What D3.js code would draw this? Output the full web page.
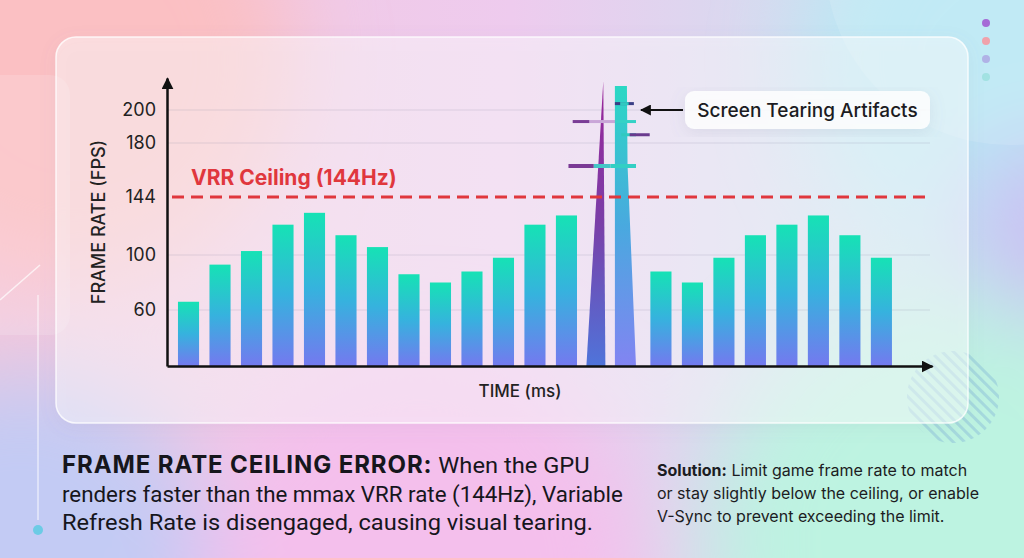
<!DOCTYPE html>
<html>
<head>
<meta charset="utf-8">
<script src="https://cdn.jsdelivr.net/npm/d3@7"></script>
<style>
  body { margin: 0; overflow: hidden; }
  svg { display: block; font-family: Inter, "Noto Sans", sans-serif; }
</style>
</head>
<body>
<div id="chart"></div>
<script>
// time samples along the x axis
var frames = ["t01", "t02", "t03", "t04", "t05", "t06", "t07", "t08", "t09", "t10", "t11", "t12",
              "t13", "t14", "t15", "t16", "t17", "t18", "t19", "t20", "t21", "t22", "t23"];

// frame rate per sample (FPS)
var fps = [66, 93, 103, 123, 132, 115, 106, 86, 80, 88, 98, 123,
           130, 218, 215, 88, 80, 98, 115, 123, 130, 115, 98];

// samples that overshoot the ceiling and tear
var tearFrames = ["t14", "t15"];

// levels where the torn slices sit (FPS)
var tearLevels = [204, 193, 185, 165];

var yTicks  = [60, 100, 144, 180, 200];
var yStops  = [20, 60, 100, 144, 180, 200, 220];   // the axis is not linear
var ceiling = 144;

var W = 1024, H = 558;

var svg = d3.select("#chart").append("svg")
    .attr("width", W)
    .attr("height", H);

var defs = svg.append("defs");

// ---------- background ----------
var bg = defs.append("linearGradient").attr("id", "bg")
    .attr("x1", 0).attr("y1", 0).attr("x2", 1).attr("y2", 0);
bg.append("stop").attr("offset", 0).attr("stop-color", "#f4c8dc");
bg.append("stop").attr("offset", 0.5).attr("stop-color", "#eecbee");
bg.append("stop").attr("offset", 1).attr("stop-color", "#c0e9f1");

defs.append("filter").attr("id", "blur")
    .attr("x", "-60%").attr("y", "-60%").attr("width", "220%").attr("height", "220%")
  .append("feGaussianBlur").attr("stdDeviation", 45);

svg.append("rect").attr("width", W).attr("height", H).attr("fill", "url(#bg)");

var blobs = [
  { cx: 70,   cy: 60,  r: 220, c: "#fbc0c3" },
  { cx: 20,   cy: 570, r: 200, c: "#c3cbf4" },
  { cx: 420,  cy: 570, r: 220, c: "#f4bfec" },
  { cx: 960,  cy: 540, r: 250, c: "#bdf3e1" },
  { cx: 1000, cy: 60,  r: 190, c: "#b9e8f4" },
  { cx: 1050, cy: 230, r: 90,  c: "#cbc1f3" }
];
svg.append("g").attr("filter", "url(#blur)")
  .selectAll("circle").data(blobs).enter().append("circle")
    .attr("cx", function(d) { return d.cx; })
    .attr("cy", function(d) { return d.cy; })
    .attr("r", function(d) { return d.r; })
    .attr("fill", function(d) { return d.c; });

// faint decorative shapes
svg.append("circle").attr("cx", 1010).attr("cy", -40).attr("r", 185)
    .attr("fill", "white").attr("opacity", 0.12);
svg.append("rect").attr("x", -20).attr("y", 75).attr("width", 90).attr("height", 260)
    .attr("rx", 20).attr("fill", "white").attr("opacity", 0.15);
svg.append("line").attr("x1", 0).attr("y1", 300).attr("x2", 40).attr("y2", 265)
    .attr("stroke", "white").attr("stroke-width", 1.5).attr("opacity", 0.7);
svg.append("line").attr("x1", 38).attr("y1", 295).attr("x2", 38).attr("y2", 520)
    .attr("stroke", "white").attr("stroke-width", 1.5).attr("opacity", 0.6);

// hatched disc behind the card corner
var hatch = defs.append("pattern").attr("id", "hatch")
    .attr("width", 8).attr("height", 8)
    .attr("patternUnits", "userSpaceOnUse")
    .attr("patternTransform", "rotate(-45)");
hatch.append("rect").attr("width", 3).attr("height", 8).attr("fill", "#9fd3dc");
svg.append("circle").attr("cx", 953).attr("cy", 397).attr("r", 46)
    .attr("fill", "url(#hatch)").attr("opacity", 0.8);

// dots
var dotColors = ["#a56bd6", "#f0a2ab", "#b0b2e6", "#a2e2e2"];
svg.selectAll(".dot").data(dotColors).enter().append("circle")
    .attr("class", "dot")
    .attr("cx", 986)
    .attr("cy", function(d, i) { return 23 + i * 18; })
    .attr("r", 4)
    .attr("fill", function(d) { return d; });
svg.append("circle").attr("cx", 38).attr("cy", 530).attr("r", 5).attr("fill", "#6ccbe5");

// ---------- card ----------
var shadow = defs.append("filter").attr("id", "shadow")
    .attr("x", "-10%").attr("y", "-10%").attr("width", "120%").attr("height", "130%");
shadow.append("feDropShadow").attr("dx", 0).attr("dy", 4).attr("stdDeviation", 8)
    .attr("flood-color", "#7a7aa0").attr("flood-opacity", 0.16);

svg.append("rect")
    .attr("x", 56).attr("y", 37)
    .attr("width", 912).attr("height", 386)
    .attr("rx", 20)
    .attr("fill", "white").attr("fill-opacity", 0.45)
    .attr("stroke", "white").attr("stroke-opacity", 0.8).attr("stroke-width", 1.5)
    .attr("filter", "url(#shadow)");

// ---------- scales ----------
var x = d3.scaleBand()
    .domain(frames)
    .range([167, 932])
    .paddingInner(0.33)
    .paddingOuter(0.81)
    .align(0.215);

var y = d3.scaleLinear()
    .domain(yStops)
    .range([366, 310, 255, 197, 143, 110, 78]);

var plotLeft = x.range()[0], plotRight = 930;

// gradients
function vGrad(id, stops) {
  var g = defs.append("linearGradient").attr("id", id)
      .attr("x1", 0).attr("y1", 0).attr("x2", 0).attr("y2", 1);
  stops.forEach(function(s) {
    g.append("stop").attr("offset", s[0]).attr("stop-color", s[1]);
  });
}
vGrad("barGrad",   [[0, "#16e2b5"], [0.5, "#36b2de"], [1, "#7479ef"]]);
vGrad("spikeA",    [[0, "#9a2398"], [0.5, "#7a3fa8"], [1, "#4f74da"]]);
vGrad("spikeB",    [[0, "#2bd8c4"], [0.5, "#49a9df"], [1, "#8284f2"]]);

defs.append("marker").attr("id", "arrow")
    .attr("viewBox", "0 0 10 10")
    .attr("refX", 9).attr("refY", 5)
    .attr("markerWidth", 12).attr("markerHeight", 12)
    .attr("markerUnits", "userSpaceOnUse")
    .attr("orient", "auto")
  .append("path").attr("d", "M0,0L10,5L0,10Z").attr("fill", "#111");

defs.append("marker").attr("id", "arrowSmall")
    .attr("viewBox", "0 0 10 10")
    .attr("refX", 9).attr("refY", 5)
    .attr("markerWidth", 11).attr("markerHeight", 11)
    .attr("markerUnits", "userSpaceOnUse")
    .attr("orient", "auto")
  .append("path").attr("d", "M0,0L10,5L0,10Z").attr("fill", "#111");

// ---------- grid ----------
svg.append("g").selectAll("line")
    .data(yTicks.filter(function(d) { return d !== ceiling; }))
    .enter().append("line")
      .attr("x1", plotLeft).attr("x2", plotRight)
      .attr("y1", function(d) { return y(d); })
      .attr("y2", function(d) { return y(d); })
      .attr("stroke", "#8a8aa8").attr("stroke-opacity", 0.22).attr("stroke-width", 1);

// ---------- bars ----------
var data = frames.map(function(f, i) { return { frame: f, value: fps[i] }; });
var base = y.range()[0];

svg.append("g").selectAll("rect")
    .data(data.filter(function(d) { return tearFrames.indexOf(d.frame) < 0; }))
    .enter().append("rect")
      .attr("x", function(d) { return x(d.frame); })
      .attr("y", function(d) { return y(d.value); })
      .attr("width", x.bandwidth())
      .attr("height", function(d) { return base - y(d.value); })
      .attr("fill", "url(#barGrad)");

// the two overshooting samples, drawn as stretched spikes
var bw = x.bandwidth();
var sA = data[frames.indexOf(tearFrames[0])];
var sB = data[frames.indexOf(tearFrames[1])];

var x0 = x(sA.frame) - 1;
svg.append("path")
    .attr("d", "M" + x0 + "," + base +
               "L" + (x0 + bw * 0.8) + "," + y(sA.value) +
               "L" + (x0 + bw * 0.9) + "," + base + "Z")
    .attr("fill", "url(#spikeA)");

var x1 = x(sB.frame) - 4;
svg.append("path")
    .attr("d", "M" + x1 + "," + base +
               "L" + x1 + "," + y(sB.value) +
               "L" + (x1 + bw * 0.57) + "," + y(sB.value) +
               "L" + (x1 + bw * 0.6) + "," + y(165) +
               "L" + (x1 + bw) + "," + base + "Z")
    .attr("fill", "url(#spikeB)");

// torn slices across the spikes (offsets in bar widths from the second spike)
var slices = svg.append("g");
var tearPieces = [
  [[0.0, 0.9, "#3a3f86"], [0.25, 0.65, "#30c9c0"]],
  [[-2.0, -1.2, "#7a3d96"], [-1.2, 0.1, "#c9a6d8"], [0.0, 1.0, "#34d2c6"]],
  [[0.3, 1.0, "#30c9c0"], [0.7, 1.65, "#6a3a8e"]],
  [[-2.2, -1.0, "#7b3a95"], [-1.0, -0.2, "#45c6c6"], [-0.2, 1.0, "#33cfc4"]]
];
tearLevels.forEach(function(level, i) {
  tearPieces[i].forEach(function(p) {
    slices.append("rect")
        .attr("x", x1 + p[0] * bw)
        .attr("y", y(level) - 1.5)
        .attr("width", (p[1] - p[0]) * bw)
        .attr("height", i === 3 ? 4 : 3)
        .attr("fill", p[2]);
  });
});

// ---------- ceiling ----------
svg.append("line")
    .attr("x1", plotLeft + 5).attr("x2", plotRight)
    .attr("y1", y(ceiling)).attr("y2", y(ceiling))
    .attr("stroke", "#e0373d").attr("stroke-width", 3)
    .attr("stroke-dasharray", "12,7");

svg.append("text")
    .attr("x", plotLeft + 24)
    .attr("y", y(ceiling) - 12)
    .attr("font-size", 21)
    .attr("font-weight", 700)
    .attr("fill", "#e0373d")
    .text("VRR Ceiling (144Hz)");

// ---------- axes ----------
var yAxis = svg.append("g")
    .attr("transform", "translate(" + plotLeft + ",0)")
    .call(d3.axisLeft(y).tickValues(yTicks).tickSize(0).tickSizeOuter(0).tickPadding(11));
yAxis.select(".domain")
    .attr("stroke", "#111").attr("stroke-width", 2.5)
    .attr("marker-end", "url(#arrow)");
yAxis.selectAll("text")
    .attr("font-family", "Inter, sans-serif")
    .attr("font-size", 18)
    .attr("fill", "#222");

var xAxis = svg.append("g")
    .attr("transform", "translate(0," + base + ")")
    .call(d3.axisBottom(x).tickValues([]).tickSizeOuter(0));
xAxis.select(".domain")
    .attr("stroke", "#111").attr("stroke-width", 2.5)
    .attr("marker-end", "url(#arrow)");

svg.append("text")
    .attr("transform", "translate(105," + (y(20) + y(220)) / 2 + ") rotate(-90)")
    .attr("text-anchor", "middle")
    .attr("font-size", 18)
    .attr("font-weight", 500)
    .attr("fill", "#222")
    .text("FRAME RATE (FPS)");

svg.append("text")
    .attr("x", 520).attr("y", 397)
    .attr("text-anchor", "middle")
    .attr("font-size", 17)
    .attr("font-weight", 500)
    .attr("fill", "#222")
    .text("TIME (ms)");

// ---------- annotation ----------
var tipX = x(sB.frame) + bw + 1;
var tipY = y(200);
var boxX = tipX + 44;

svg.append("rect")
    .attr("x", boxX).attr("y", tipY - 19)
    .attr("width", plotRight - boxX).attr("height", 38)
    .attr("rx", 9)
    .attr("fill", "white").attr("fill-opacity", 0.85)
    .attr("filter", "url(#shadow)");

svg.append("text")
    .attr("x", (boxX + plotRight) / 2).attr("y", tipY + 7)
    .attr("text-anchor", "middle")
    .attr("font-size", 19)
    .attr("font-weight", 500)
    .attr("fill", "#1c1c22")
    .text("Screen Tearing Artifacts");

svg.append("line")
    .attr("x1", boxX - 2).attr("x2", tipX)
    .attr("y1", tipY).attr("y2", tipY)
    .attr("stroke", "#111").attr("stroke-width", 2.2)
    .attr("marker-end", "url(#arrowSmall)");

// ---------- captions ----------
var capFont = "Roboto, sans-serif";

var note = svg.append("text")
    .attr("x", 62).attr("y", 473)
    .attr("fill", "#16161c");
note.append("tspan").attr("font-weight", 700).attr("font-size", 24)
    .attr("letter-spacing", 0.9).text("FRAME RATE CEILING ERROR:");
var noteRest = note.append("tspan").attr("font-family", capFont).attr("font-size", 23)
    .text(" When the GPU");

var line2 = svg.append("text")
    .attr("x", 62).attr("y", 502)
    .attr("font-size", 23)
    .attr("font-family", capFont)
    .attr("fill", "#16161c")
    .text("renders faster than the mmax VRR rate (144Hz), Variable");
var line3 = svg.append("text")
    .attr("x", 62).attr("y", 530)
    .attr("font-size", 23)
    .attr("font-family", capFont)
    .attr("fill", "#16161c")
    .text("Refresh Rate is disengaged, causing visual tearing.");

// size the caption lines to the widths they have in the reference
var capSize = 23 * 561 / line2.node().getComputedTextLength();
line2.attr("font-size", capSize);
line3.attr("font-size", capSize);
noteRest.attr("font-size", capSize);
line3.attr("textLength", 531).attr("lengthAdjust", "spacingAndGlyphs");
var restLen = noteRest.node().getComputedTextLength();
noteRest.attr("textLength", restLen + 9).attr("lengthAdjust", "spacingAndGlyphs");

var sol = ["Limit game frame rate to match",
           "or stay slightly below the ceiling, or enable",
           "V-Sync to prevent exceeding the limit."];
sol.forEach(function(line, i) {
  var t = svg.append("text")
      .attr("x", 657).attr("y", 476 + i * 23)
      .attr("font-size", 16)
      .attr("fill", "#1c1c22");
  if (i === 0) {
    t.append("tspan").attr("font-weight", 700).text("Solution:");
    t.append("tspan").text(" " + line);
  } else {
    t.text(line);
  }
});
</script>
</body>
</html>
